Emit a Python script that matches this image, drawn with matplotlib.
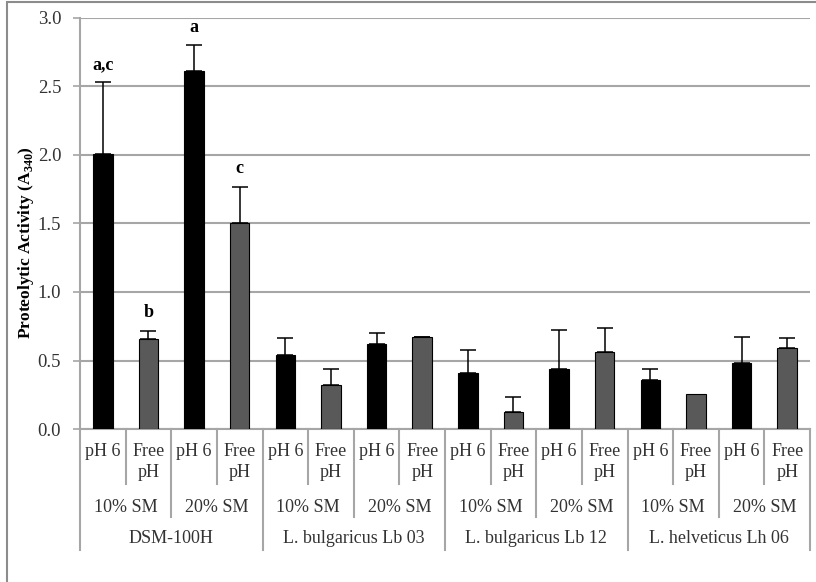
import numpy as np
import matplotlib
matplotlib.use("Agg")
from matplotlib import pyplot as plt
from matplotlib.patches import Rectangle

plt.rcParams['font.family'] = ['Liberation Serif', 'DejaVu Serif']
plt.rcParams['mathtext.fontset'] = 'custom'
plt.rcParams['mathtext.rm'] = 'Liberation Serif:bold'
plt.rcParams['mathtext.bf'] = 'Liberation Serif:bold'

# strains -> skim milk level -> pH condition
strains = ["DSM-100H", "L. bulgaricus Lb 03", "L. bulgaricus Lb 12", "L. helveticus Lh 06"]
milk = ["10% SM", "20% SM"]
conditions = ["pH 6", "Free\npH"]

activity = [2.01, 0.66, 2.61, 1.50,
            0.54, 0.32, 0.62, 0.67,
            0.41, 0.125, 0.44, 0.56,
            0.355, 0.255, 0.48, 0.59]
error = [0.52, 0.055, 0.19, 0.27,
         0.125, 0.115, 0.08, 0.005,
         0.17, 0.11, 0.28, 0.18,
         0.085, 0.0, 0.19, 0.075]
letters = {0: "a,c", 1: "b", 2: "a", 3: "c"}

grid_col = '#a6a6a6'
txt_col = '#333333'
n = len(activity)
x = np.arange(n)
colors = ['black' if i % 2 == 0 else '#595959' for i in range(n)]

fig = plt.figure(figsize=(8.16, 5.82), dpi=100)
ax = fig.add_axes([80 / 816, 153 / 582, 730 / 816, 411 / 582])

ax.bar(x, activity, width=0.43, color=colors, edgecolor='black', linewidth=0.8, zorder=3)
for i in range(n):
    if error[i] > 0:
        ax.errorbar(x[i], activity[i], yerr=[[0], [error[i]]], fmt='none', ecolor='black',
                    elinewidth=1.1, capsize=5.5, capthick=1.1, zorder=4)
for i, txt in letters.items():
    ax.annotate(txt, (x[i], activity[i] + error[i]), xytext=(0, 13), textcoords='offset points',
                ha='center', va='center', fontsize=13, fontweight='bold')

ax.set_xlim(-0.5, n - 0.5)
ax.set_ylim(0, 3.0)
ax.set_yticks(np.arange(0, 3.01, 0.5))
ax.set_yticklabels(["%.1f" % v for v in np.arange(0, 3.01, 0.5)], fontsize=13.5, color=txt_col)
ax.yaxis.grid(True, color=grid_col, linewidth=1.5, zorder=0)
ax.set_xticks([])
ax.tick_params(axis='y', length=5, width=1.2, color=grid_col, pad=8.5)
for side in ['top', 'right']:
    ax.spines[side].set_visible(False)
for side in ['left', 'bottom']:
    ax.spines[side].set_color(grid_col)
    ax.spines[side].set_linewidth(1.5)

ax.set_ylabel(r'Proteolytic Activity (A$_{\mathbf{340}}$)', fontsize=12.5, fontweight='bold')
ax.yaxis.set_label_coords(-44 / 730, 186 / 411)

# hierarchical category axis below the plot
trans = ax.get_xaxis_transform()
h = 411.0
for i in range(n):
    ax.text(x[i], -14 / h, conditions[i % 2], transform=trans, ha='center', va='top',
            fontsize=13, linespacing=1.3, color=txt_col)
for j in range(len(strains) * len(milk)):
    ax.text(2 * j + 0.5, -70 / h, milk[j % 2], transform=trans, ha='center', va='top',
            fontsize=13, color=txt_col)
for k, s in enumerate(strains):
    ax.text(4 * k + 1.5, -101 / h, s, transform=trans, ha='center', va='top',
            fontsize=13, color=txt_col)

for b in range(n + 1):
    if b % 4 == 0:
        depth = 121
    elif b % 2 == 0:
        depth = 88
    else:
        depth = 55
    ax.plot([b - 0.5, b - 0.5], [0, -depth / h], transform=trans, color=grid_col,
            linewidth=1.5, clip_on=False)

# outer border
fig.patches.append(Rectangle((7 / 816, -0.05), 1.0, 1.05 - 2 / 582, transform=fig.transFigure,
                             fill=False, edgecolor='#8c8c8c', linewidth=1.5))

fig.savefig("out.png", dpi=100)
